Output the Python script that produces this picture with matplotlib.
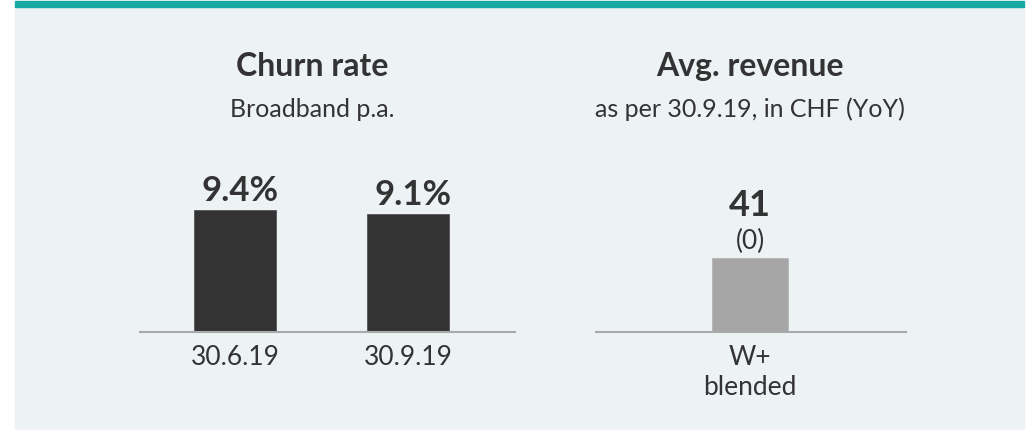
import matplotlib.pyplot as plt
from matplotlib.patches import Rectangle

# Data
churn_dates = ["30.6.19", "30.9.19"]
churn_rates = [9.4, 9.1]
churn_labels = ["9.4%", "9.1%"]

revenue_cats = ["W+\nblended"]
revenue_values = [41]
revenue_labels = ["41"]
revenue_yoy = ["(0)"]

W, H = 1028, 431
TEXT = "#333333"
plt.rcParams['font.family'] = ['Lato', 'DejaVu Sans']

fig = plt.figure(figsize=(W / 100, H / 100), dpi=100)
fig.patch.set_facecolor("white")


def px_box(x0, x1, y_top, y_bot):
    # pixel box -> figure fraction [left, bottom, width, height]
    return [x0 / W, 1 - y_bot / H, (x1 - x0) / W, (y_bot - y_top) / H]


# Background panel and teal top rule
fig.add_artist(Rectangle((15 / W, 0), (1024 - 15) / W, 1 - 8 / H,
                         transform=fig.transFigure, color="#edf2f5", zorder=0))
fig.add_artist(Rectangle((15 / W, 1 - 8 / H), (1024 - 15) / W, 6 / H,
                         transform=fig.transFigure, color="#17a8a4", zorder=0))

# Titles
fig.text(312 / W, 1 - 76 / H, "Churn rate", ha="center", va="baseline",
         fontsize=23, fontweight="bold", color=TEXT)
fig.text(312 / W, 1 - 117 / H, "Broadband p.a.", ha="center", va="baseline",
         fontsize=18, color=TEXT)
fig.text(750 / W, 1 - 76 / H, "Avg. revenue", ha="center", va="baseline",
         fontsize=23, fontweight="bold", color=TEXT)
fig.text(750 / W, 1 - 117 / H, "as per 30.9.19, in CHF (YoY)", ha="center", va="baseline",
         fontsize=18, color=TEXT)

# Churn rate chart
ax1 = fig.add_axes(px_box(140, 515, 177, 333))
x1 = range(len(churn_rates))
ax1.bar(x1, churn_rates, width=0.474, color="#333333", edgecolor="#555555", linewidth=0.6)
ax1.set_xlim(-0.549, 1.618)
ax1.set_ylim(0, 12)
for i, (v, lab) in enumerate(zip(churn_rates, churn_labels)):
    ax1.annotate(lab, (i + 0.03, v), xytext=(0, 7), textcoords="offset points",
                 ha="center", va="baseline", fontsize=25, fontweight="bold", color=TEXT)

# Average revenue chart
ax2 = fig.add_axes(px_box(596, 906, 189, 333))
x2 = range(len(revenue_values))
ax2.bar(x2, revenue_values, width=0.6, color="#a6a6a6", edgecolor="#b5b5b5", linewidth=0.6)
ax2.set_xlim(-1.216, 1.231)
ax2.set_ylim(0, 80)
for i, (v, lab, yoy) in enumerate(zip(revenue_values, revenue_labels, revenue_yoy)):
    ax2.annotate(yoy, (i, v), xytext=(0, 13), textcoords="offset points",
                 ha="center", va="center", fontsize=19, color=TEXT)
    ax2.annotate(lab, (i, v), xytext=(0, 31), textcoords="offset points",
                 ha="center", va="baseline", fontsize=26, fontweight="bold", color=TEXT)

for ax, cats in ((ax1, churn_dates), (ax2, revenue_cats)):
    ax.set_facecolor("none")
    for side in ("top", "right", "left"):
        ax.spines[side].set_visible(False)
    ax.spines["bottom"].set_color("#aaaaaa")
    ax.spines["bottom"].set_linewidth(1.5)
    ax.set_yticks([])
    ax.set_xticks(range(len(cats)))
    ax.set_xticklabels(cats, fontsize=19, color=TEXT, linespacing=1.25)
    ax.tick_params(axis="x", length=0, pad=9)

fig.savefig("out.png", dpi=100, facecolor=fig.get_facecolor())
